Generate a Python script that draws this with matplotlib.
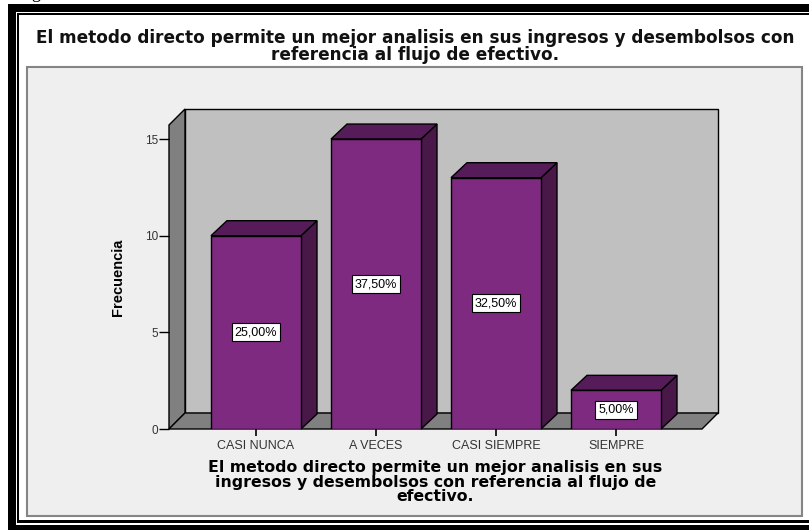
import matplotlib
matplotlib.use("Agg")
import matplotlib.pyplot as plt
from matplotlib.patches import Polygon, Rectangle

# datos (SPSS, n = 40)
categorias = ["CASI NUNCA", "A VECES", "CASI SIEMPRE", "SIEMPRE"]
frecuencia = [10, 15, 13, 2]
porcentaje = ["25,00%", "37,50%", "32,50%", "5,00%"]
y_ticks = [0, 5, 10, 15]

titulo = ("El metodo directo permite un mejor analisis en sus ingresos y desembolsos con\n"
          "referencia al flujo de efectivo.")
etiqueta_x = ("El metodo directo permite un mejor analisis en sus\n"
              "ingresos y desembolsos con referencia al flujo de\n"
              "efectivo.")

# colores estilo SPSS
C_FRENTE = "#7d2a80"
C_TECHO = "#561c59"
C_LADO = "#481848"
C_FONDO = "#c0c0c0"
C_PARED = "#808080"
C_PANEL = "#efefef"

W, H = 809, 530
fig = plt.figure(figsize=(W / 100, H / 100), dpi=100)
fig.patch.set_facecolor("white")

# --------------------------------------------------------------------------
# marco exterior (coordenadas en pixeles)
# --------------------------------------------------------------------------
bg = fig.add_axes([0, 0, 1, 1], zorder=0)
bg.set_xlim(0, W)
bg.set_ylim(H, 0)
bg.axis("off")
bg.add_patch(Rectangle((8, 4), W, H, fc="black", ec="none"))
bg.add_patch(Rectangle((16, 12), W, 513, fc="white", ec="none"))
bg.add_patch(Rectangle((17, 13), W, 509.5, fc="black", ec="none"))
bg.add_patch(Rectangle((19, 15), W, 505, fc="white", ec="none"))
bg.add_patch(Rectangle((27, 67), 775, 449, fc=C_PANEL, ec="#858585", lw=1.5))
# resto del pie "Figura" cortado arriba de la imagen
bg.text(31, -2, "g", fontsize=13, family="Liberation Serif", va="baseline", ha="left")

fig.text(415 / W, 1 - 46.5 / H, titulo, ha="center", va="center",
         fontsize=12.2, fontweight="bold", family="DejaVu Sans",
         linespacing=0.98, color="#111111")

# --------------------------------------------------------------------------
# grafico 3D simulado
# --------------------------------------------------------------------------
x0_px, x1_px, y0_px, ytop_px = 169, 702, 429, 125
ax = fig.add_axes([x0_px / W, 1 - y0_px / H, (x1_px - x0_px) / W, (y0_px - ytop_px) / H],
                  zorder=1)
ax.patch.set_alpha(0)
for s in ax.spines.values():
    s.set_visible(False)

px_x = 120.0          # pixeles por categoria
px_y = 19.33          # pixeles por unidad de frecuencia
xmin = -(256 - x0_px) / px_x
xmax = xmin + (x1_px - x0_px) / px_x
ytop = (y0_px - ytop_px) / px_y
ax.set_xlim(xmin, xmax)
ax.set_ylim(0, ytop)

dx, dy = 16 / px_x, 16 / px_y      # profundidad del fondo
bdx, bdy = 16 / px_x, 15 / px_y    # profundidad de las barras
ancho = 90 / px_x

kw = dict(ec="black", lw=1.0, clip_on=False, joinstyle="miter")
ax.add_patch(Polygon([(xmin + dx, dy), (xmax + dx, dy), (xmax + dx, ytop + dy),
                      (xmin + dx, ytop + dy)], fc=C_FONDO, **kw))
ax.add_patch(Polygon([(xmin, 0), (xmin + dx, dy), (xmin + dx, ytop + dy), (xmin, ytop)],
                     fc=C_PARED, **kw))
ax.add_patch(Polygon([(xmin, 0), (xmax, 0), (xmax + dx, dy), (xmin + dx, dy)],
                     fc=C_PARED, **kw))

for i, (v, txt) in enumerate(zip(frecuencia, porcentaje)):
    l, r = i - ancho / 2, i + ancho / 2
    ax.add_patch(Polygon([(r, 0), (r + bdx, bdy), (r + bdx, v + bdy), (r, v)],
                         fc=C_LADO, **kw))
    ax.add_patch(Polygon([(l, v), (r, v), (r + bdx, v + bdy), (l + bdx, v + bdy)],
                         fc=C_TECHO, **kw))
    ax.bar(i, v, width=ancho, color=C_FRENTE, edgecolor="black", lw=1.0, zorder=3)
    ax.text(i, v / 2, txt, ha="center", va="center", fontsize=9,
            family="Liberation Sans", zorder=5,
            bbox=dict(boxstyle="square,pad=0.25", fc="white", ec="black", lw=0.8))

ax.set_xticks(range(len(categorias)))
ax.set_xticklabels(categorias, fontsize=9, family="Liberation Sans", color="#333333")
ax.set_yticks(y_ticks)
ax.set_yticklabels([str(t) for t in y_ticks], fontsize=8.5, family="Liberation Sans",
                   color="#333333")
ax.tick_params(axis="x", direction="out", length=5, width=1.2, pad=3)
ax.tick_params(axis="y", direction="out", length=7, width=1.0, pad=1)

ax.set_ylabel("Frecuencia", fontsize=10.5, fontweight="bold", family="Liberation Sans")
ax.yaxis.set_label_coords((125 - x0_px) / (x1_px - x0_px), 0.5)

fig.text(435.5 / W, 1 - 482 / H, etiqueta_x, ha="center", va="center",
         fontsize=11.3, fontweight="bold", family="DejaVu Sans", linespacing=0.98)

fig.savefig("out.png", dpi=100)
